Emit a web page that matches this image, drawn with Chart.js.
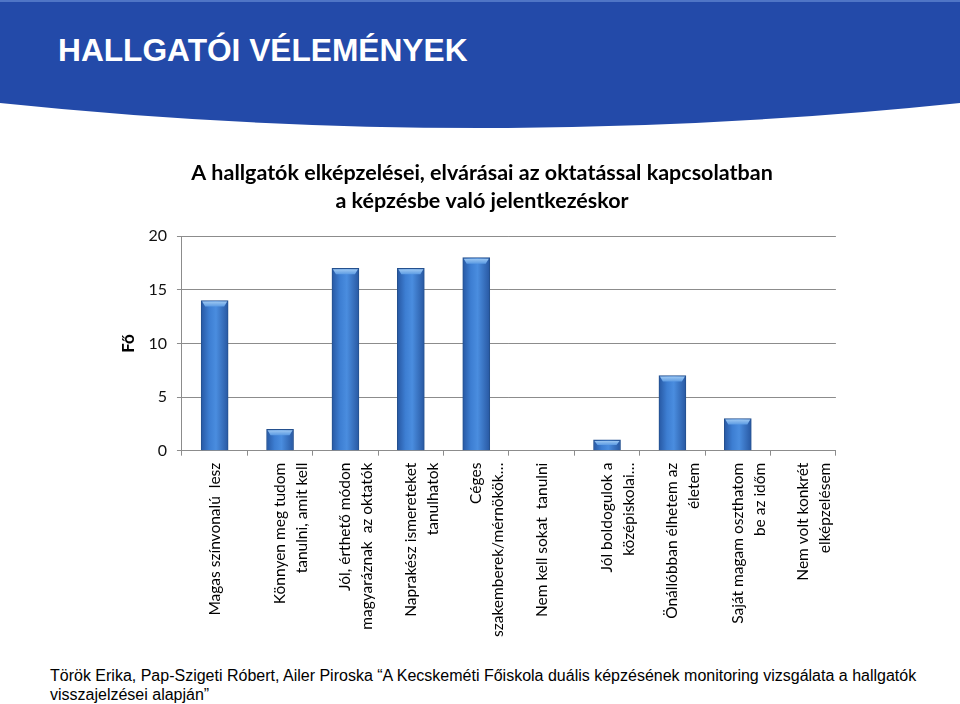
<!DOCTYPE html>
<html lang="hu">
<head>
    <meta charset="UTF-8">
    <title>Hallgatói vélemények</title>
    <script src="https://cdn.jsdelivr.net/npm/chart.js"></script>
    <style>
        body {
            margin: 0;
            width: 960px;
            height: 704px;
            background: #ffffff;
            position: relative;
            overflow: hidden;
            font-family: "Liberation Sans", Arial, sans-serif;
        }
        .header {
            position: absolute;
            left: 0;
            top: 0;
        }
        .header h1 {
            position: absolute;
            left: 58px;
            top: 32px;
            margin: 0;
            color: #ffffff;
            font-size: 32px;
            font-weight: bold;
            white-space: nowrap;
            transform-origin: left top;
            transform: scaleX(0.99);
        }
        .chart-box {
            position: absolute;
            left: 100px;
            top: 152px;
            width: 754px;
            height: 492px;
        }
        .source {
            position: absolute;
            left: 50px;
            top: 666px;
            font-size: 16px;
            line-height: 19px;
            color: #000;
        }
    </style>
</head>
<body>

<div class="header">
    <svg width="960" height="160">
        <path d="M0,0 H960 V103 Q480,153 0,103 Z" fill="#234aa9"/>
        <rect x="0" y="0" width="960" height="2" fill="#4f75c6"/>
    </svg>
    <h1>HALLGATÓI VÉLEMÉNYEK</h1>
</div>

<div class="chart-box">
    <canvas id="chart"></canvas>
</div>

<div class="source">
    Török Erika, Pap-Szigeti Róbert, Ailer Piroska “A Kecskeméti Főiskola duális képzésének monitoring vizsgálata a hallgatók<br>
    visszajelzései alapján”
</div>

<script>
    const categories = [
        ["Magas színvonalú  lesz"],
        ["Könnyen meg tudom", "tanulni, amit kell"],
        ["Jól, érthető módon", "magyaráznak  az oktatók"],
        ["Naprakész ismereteket", "tanulhatok"],
        ["Céges", "szakemberek/mérnökök…"],
        ["Nem kell sokat  tanulni"],
        ["Jól boldogulok a", "középiskolai…"],
        ["Önállóbban élhetem az", "életem"],
        ["Saját magam oszthatom", "be az időm"],
        ["Nem volt konkrét", "elképzelésem"]
    ];
    const counts = [14, 2, 17, 17, 18, 0, 1, 7, 3, 0];
    const yTicks = [0, 5, 10, 15, 20];
    const chartTitle = ["A hallgatók elképzelései, elvárásai az oktatással kapcsolatban", "a képzésbe való jelentkezéskor"];
    const yTitle = "Fő";

    const BAR_W = 27;
    const labelFont = "Lato, 'Open Sans', sans-serif";

    // cylinder-ish shading across each bar
    function barFill(ctx) {
        const chart = ctx.chart;
        const xs = chart.scales.x;
        if (!xs || ctx.dataIndex === undefined) return '#3f7fcf';
        const cx = xs.getPixelForValue(ctx.dataIndex);
        if (!isFinite(cx)) return '#3f7fcf';
        const g = chart.ctx.createLinearGradient(cx - BAR_W / 2, 0, cx + BAR_W / 2, 0);
        g.addColorStop(0, '#2758a3');
        g.addColorStop(0.3, '#3d7ed2');
        g.addColorStop(0.55, '#4a8ddf');
        g.addColorStop(1, '#2858a2');
        return g;
    }

    // light bevel on top of each bar
    const bevel = {
        id: 'bevel',
        afterDatasetsDraw(chart) {
            const c = chart.ctx;
            chart.getDatasetMeta(0).data.forEach(bar => {
                const h = bar.base - bar.y;
                if (h < 2) return;
                const l = bar.x - bar.width / 2 + 1, r = bar.x + bar.width / 2 - 1;
                const bh = Math.min(6, h / 2);
                const g = c.createLinearGradient(0, bar.y, 0, bar.y + bh);
                g.addColorStop(0, '#a9d0f5');
                g.addColorStop(1, '#5c9be3');
                c.save();
                c.fillStyle = g;
                c.beginPath();
                c.moveTo(l, bar.y + 1);
                c.lineTo(r, bar.y + 1);
                c.lineTo(r - 3, bar.y + bh);
                c.lineTo(l + 3, bar.y + bh);
                c.closePath();
                c.fill();
                c.restore();
            });
        }
    };

    new Chart(document.getElementById('chart'), {
        type: 'bar',
        data: {
            labels: categories,
            datasets: [{
                data: counts,
                backgroundColor: barFill,
                borderColor: '#24508e',
                borderWidth: 1,
                barThickness: BAR_W
            }]
        },
        options: {
            responsive: true,
            maintainAspectRatio: false,
            animation: false,
            layout: { padding: { left: 18, right: 8, top: 0, bottom: 0 } },
            plugins: {
                legend: { display: false },
                tooltip: { enabled: false },
                title: {
                    display: true,
                    text: chartTitle,
                    color: '#000',
                    font: { family: labelFont, size: 21.5, weight: 'bold', lineHeight: 1.26 },
                    padding: { top: 8, bottom: 22 }
                }
            },
            scales: {
                x: {
                    grid: {
                        drawOnChartArea: false,
                        drawTicks: true,
                        tickLength: 5,
                        color: '#8c8c8c'
                    },
                    border: { color: '#8c8c8c' },
                    ticks: {
                        minRotation: 90,
                        maxRotation: 90,
                        padding: 7,
                        color: '#000',
                        font: { family: labelFont, size: 15.5, lineHeight: 1.4 }
                    }
                },
                y: {
                    min: 0,
                    max: 20,
                    afterBuildTicks(axis) {
                        axis.ticks = yTicks.map(v => ({ value: v }));
                    },
                    grid: {
                        color: '#8c8c8c',
                        tickLength: 5
                    },
                    border: { color: '#8c8c8c' },
                    ticks: {
                        color: '#111',
                        padding: 10,
                        font: { family: labelFont, size: 16 }
                    },
                    title: {
                        display: true,
                        text: yTitle,
                        color: '#000',
                        font: { family: labelFont, size: 17, weight: 'bold' },
                        padding: { top: 0, bottom: 0 }
                    }
                }
            }
        },
        plugins: [bevel]
    });
</script>

</body>
</html>
